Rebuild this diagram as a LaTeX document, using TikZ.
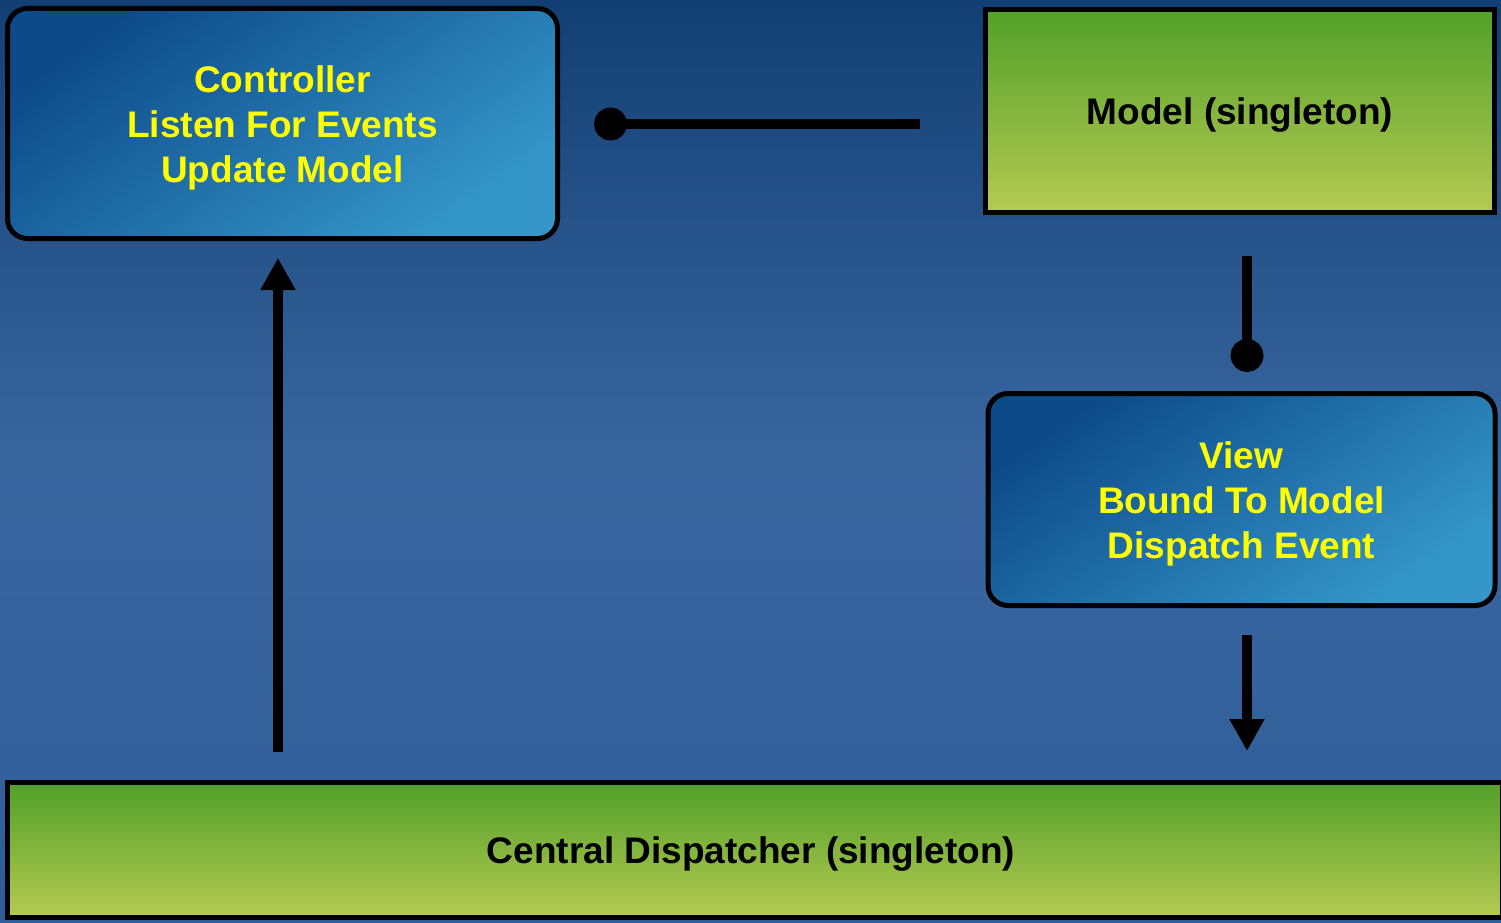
\documentclass[tikz,border=0pt]{standalone}
\usepackage{fontspec}
\setmainfont{Liberation Sans}
\usetikzlibrary{arrows.meta,calc}
\definecolor{bgtop}{HTML}{123F73}
\definecolor{bgmid}{HTML}{3A66A0}
\definecolor{bgbot}{HTML}{2E5D99}
\definecolor{bluedark}{HTML}{0D4A8A}
\definecolor{bluelight}{HTML}{3597C9}
\definecolor{greentop}{HTML}{52A02A}
\definecolor{greenbot}{HTML}{B6CA52}
\definecolor{txtyellow}{HTML}{FFFF00}
\tikzset{
  boxtext/.style={font=\fontsize{37}{45}\selectfont\bfseries, align=center,
    inner sep=0pt, yshift=-4.5pt},
  bluebox/.style={draw=black, line width=5pt, rounded corners=20pt,
    top color=bluedark, bottom color=bluelight, shading angle=35,
    inner sep=0pt},
  greenbox/.style={draw=black, line width=5pt,
    top color=greentop, bottom color=greenbot, inner sep=0pt},
  conn/.style={draw=black, line width=10pt},
  tri/.style={-{Triangle[width=33pt,length=32pt]}},
  dot/.style={{Circle[length=33pt]}-},
  dotend/.style={-{Circle[length=33pt]}}
}
\begin{document}
\begin{tikzpicture}[x=1pt,y=-1pt]
\useasboundingbox (0,0) rectangle (1501,923);
\shade[top color=bgtop, bottom color=bgbot, middle color=bgmid] (0,0) rectangle (1501,923);

\node[bluebox, minimum width=550pt, minimum height=230pt,
  label={[boxtext, text=txtyellow]center:Controller\\Listen For Events\\Update Model}] (ctrl) at (282.5,123.5) {};
\node[greenbox, minimum width=509pt, minimum height=203pt,
  label={[boxtext, text=black]center:Model (singleton)}] (model) at (1240,111) {};
\node[bluebox, minimum width=507pt, minimum height=212pt,
  label={[boxtext, text=txtyellow]center:View\\Bound To Model\\Dispatch Event}] (view) at (1241.5,499.5) {};
\node[greenbox, minimum width=1495pt, minimum height=135pt,
  label={[boxtext, text=black, xshift=-4pt]center:Central Dispatcher (singleton)}] (disp) at (755,850) {};

% Controller -- Model
\draw[conn, dot, shorten <=34pt, shorten >=63pt] ($(ctrl.east)+(0,0.5)$) -- ($(ctrl.east -| model.west)+(0,0.5)$);
% Model -- View
\draw[conn, dotend, shorten <=41pt, shorten >=19pt] ($(model.south)+(7,0)$) -- ($(model.south |- view.north)+(7,0)$);
% View -> Dispatcher
\draw[conn, tri, shorten <=27pt, shorten >=29pt] ($(view.south)+(5.5,0)$) -- ($(view.south |- disp.north)+(5.5,0)$);
% Dispatcher -> Controller
\draw[conn, tri, shorten <=28pt, shorten >=17pt] ($(ctrl.south |- disp.north)+(-4.5,0)$) -- ($(ctrl.south)+(-4.5,0)$);
\end{tikzpicture}
\end{document}
